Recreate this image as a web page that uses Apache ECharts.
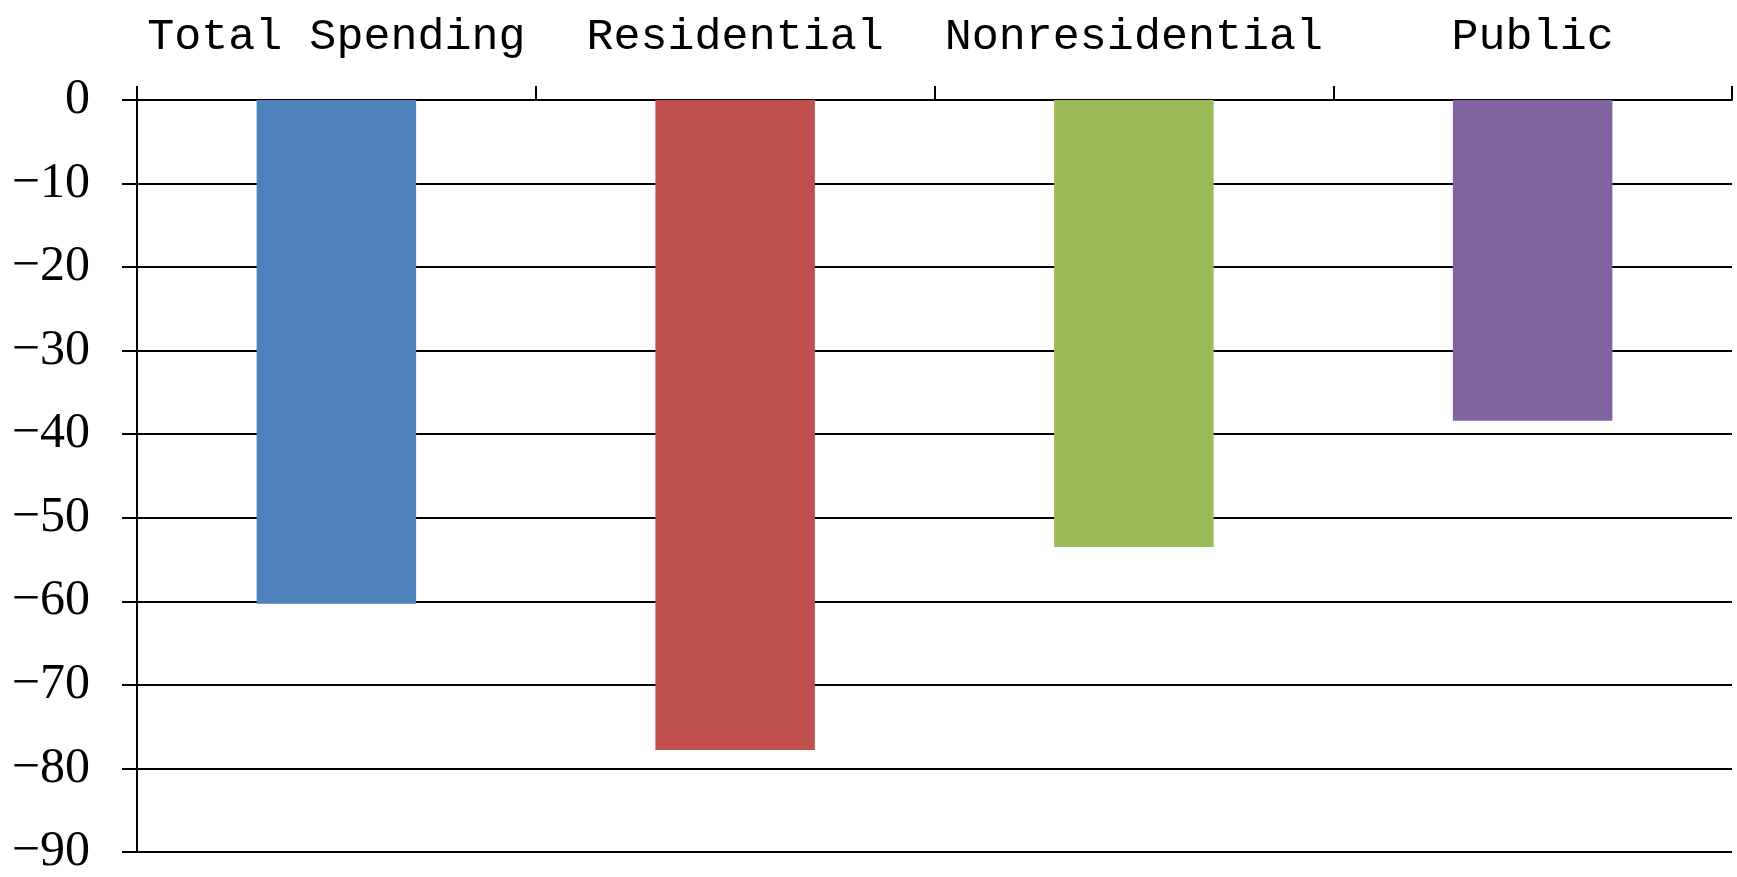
<!DOCTYPE html>
<html>
<head>
<meta charset="utf-8">
<script src="https://cdn.jsdelivr.net/npm/echarts@6/dist/echarts.min.js"></script>
<style>
  html, body { margin: 0; padding: 0; background: #fff; }
  #chart { width: 1737px; height: 877px; }
</style>
</head>
<body>
<div id="chart"></div>
<script>
// categories across the top, values are % change
var categories = ['Total Spending', 'Residential', 'Nonresidential', 'Public'];
var changes = [-60.3, -77.8, -53.5, -38.4];
var yTicks = [0, -10, -20, -30, -40, -50, -60, -70, -80, -90];

var barColors = ['#4f81bd', '#c0504d', '#9bbb59', '#8064a2'];

var chart = echarts.init(document.getElementById('chart'));

var option = {
    animation: false,
    color: barColors,
    grid: {
        left: 137,
        right: 5,
        top: 100,
        bottom: 25
    },
    xAxis: {
        type: 'category',
        position: 'top',
        data: categories,
        axisLine: { lineStyle: { color: '#000', width: 2 } },
        axisTick: { show: true, length: 14, lineStyle: { color: '#000', width: 2 } },
        axisLabel: {
            interval: 0,
            margin: 63,
            verticalAlign: 'middle',
            color: '#000',
            fontFamily: 'Liberation Mono',
            fontSize: 45
        },
        splitLine: { show: false }
    },
    yAxis: {
        type: 'value',
        min: yTicks[yTicks.length - 1],
        max: yTicks[0],
        interval: 10,
        axisLine: { show: true, lineStyle: { color: '#000', width: 2 } },
        axisTick: { show: true, length: 15, lineStyle: { color: '#000', width: 2 } },
        axisLabel: {
            margin: 47,
            color: '#000',
            fontFamily: 'Liberation Serif',
            fontSize: 50,
            padding: [10, 0, 0, 0],
            formatter: function (v) {
                return v < 0 ? '\u2212' + Math.abs(v) : String(v);
            }
        },
        splitLine: { show: true, lineStyle: { color: '#000', width: 2 } }
    },
    series: [{
        type: 'bar',
        colorBy: 'data',
        barWidth: '40%',
        data: changes
    }]
};

chart.setOption(option);
</script>
</body>
</html>
